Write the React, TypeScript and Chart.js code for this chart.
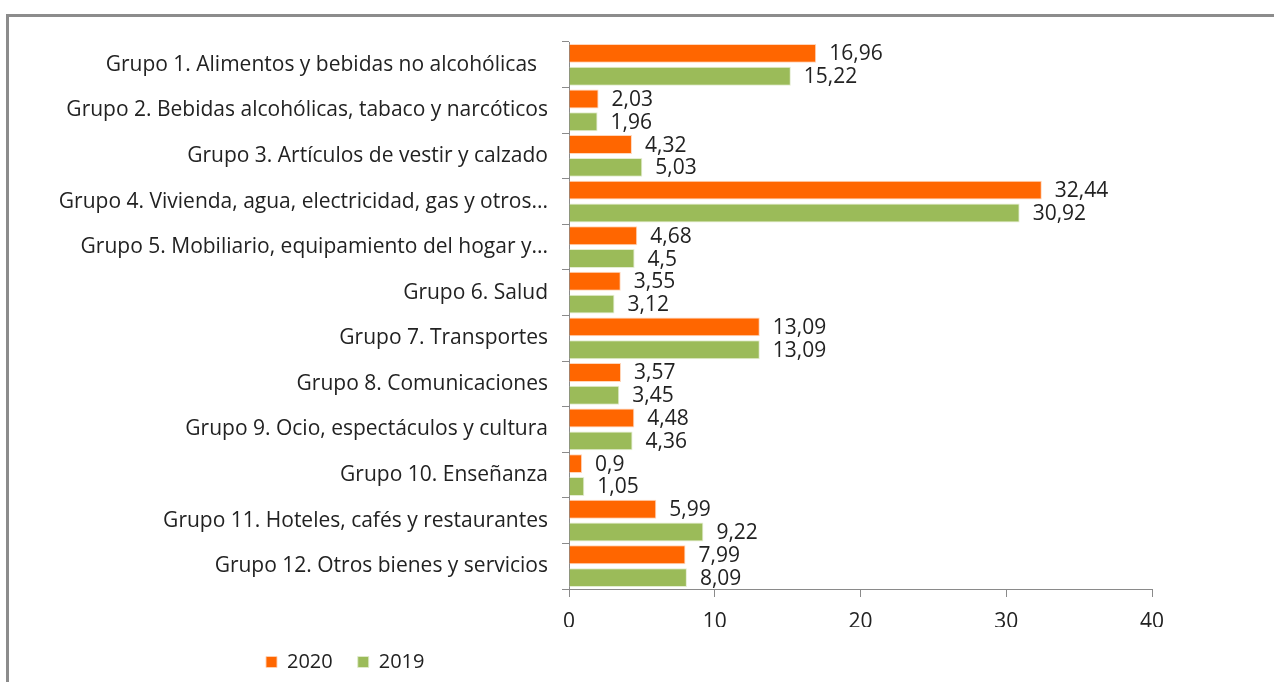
import React, { useEffect, useRef } from "react";
import { Chart, registerables } from "chart.js";

Chart.register(...registerables);

const categories = [
  "Grupo 1. Alimentos y bebidas no alcohólicas  ",
  "Grupo 2. Bebidas alcohólicas, tabaco y narcóticos",
  "Grupo 3. Artículos de vestir y calzado",
  "Grupo 4. Vivienda, agua, electricidad, gas y otros...",
  "Grupo 5. Mobiliario, equipamiento del hogar y...",
  "Grupo 6. Salud",
  "Grupo 7. Transportes",
  "Grupo 8. Comunicaciones",
  "Grupo 9. Ocio, espectáculos y cultura",
  "Grupo 10. Enseñanza",
  "Grupo 11. Hoteles, cafés y restaurantes",
  "Grupo 12. Otros bienes y servicios",
];

const values2020 = [16.96, 2.03, 4.32, 32.44, 4.68, 3.55, 13.09, 3.57, 4.48, 0.9, 5.99, 7.99];
const values2019 = [15.22, 1.96, 5.03, 30.92, 4.5, 3.12, 13.09, 3.45, 4.36, 1.05, 9.22, 8.09];

const seriesNames = ["2020", "2019"];
const xMin = 0;
const xMax = 40;
const xStep = 10;

const FONT = "'Open Sans', 'Noto Sans', sans-serif";
const TEXT = "#222222";
const AXIS = "#8a8a8a";
const ORANGE = "#FF6600";
const GREEN = "#9BBB59";
const LEGEND_LEFT = 241;

const fmt = (v: number) => String(v).replace(".", ",");

const dataLabels = {
  id: "dataLabels",
  afterDatasetsDraw(chart: any) {
    const ctx = chart.ctx;
    ctx.save();
    ctx.font = `21px ${FONT}`;
    ctx.fillStyle = TEXT;
    ctx.textAlign = "left";
    ctx.textBaseline = "middle";
    chart.data.datasets.forEach((ds: any, di: number) => {
      const meta = chart.getDatasetMeta(di);
      meta.data.forEach((bar: any, i: number) => {
        ctx.fillText(fmt(ds.data[i]), bar.x + 13, bar.y + 1);
      });
    });
    ctx.restore();
  },
};

const legendShift = {
  id: "legendShift",
  afterLayout(chart: any) {
    if (chart.legend) chart.legend.left = LEGEND_LEFT;
  },
};

export default function App() {
  const ref = useRef<HTMLCanvasElement | null>(null);

  useEffect(() => {
    if (!ref.current) return;
    const chart = new Chart(ref.current, {
      type: "bar",
      data: {
        labels: categories,
        datasets: [
          {
            label: seriesNames[0],
            data: values2020,
            backgroundColor: ORANGE,
            borderColor: "rgba(255,210,180,0.9)",
            borderWidth: 1,
            categoryPercentage: 1,
            barPercentage: 0.83,
          },
          {
            label: seriesNames[1],
            data: values2019,
            backgroundColor: GREEN,
            borderColor: "rgba(225,235,205,0.9)",
            borderWidth: 1,
            categoryPercentage: 1,
            barPercentage: 0.83,
          },
        ],
      },
      options: {
        indexAxis: "y",
        responsive: false,
        animation: false,
        events: [],
        layout: { padding: { left: 8, top: 42, right: 122, bottom: 0 } },
        plugins: {
          tooltip: { enabled: false },
          title: { display: false },
          legend: {
            display: true,
            position: "bottom",
            align: "start",
            labels: {
              boxWidth: 11,
              boxHeight: 11,
              padding: 25,
              color: TEXT,
              font: { family: FONT, size: 20 },
            },
          },
        },
        scales: {
          x: {
            min: xMin,
            max: xMax,
            ticks: {
              stepSize: xStep,
              color: TEXT,
              font: { family: FONT, size: 21 },
              padding: 12,
            },
            grid: {
              display: true,
              drawOnChartArea: false,
              drawTicks: true,
              tickLength: 8,
              color: AXIS,
              lineWidth: 1,
            },
            border: { display: true, color: AXIS, width: 1 },
            afterFit: (s: any) => {
              s.height = 38;
            },
          },
          y: {
            ticks: {
              color: TEXT,
              font: { family: FONT, size: 21 },
              padding: 14,
              autoSkip: false,
            },
            grid: {
              display: true,
              drawOnChartArea: false,
              drawTicks: true,
              tickLength: 7,
              color: AXIS,
              lineWidth: 1,
              offset: true,
            },
            border: { display: true, color: AXIS, width: 1 },
            afterFit: (s: any) => {
              s.width = 561;
            },
          },
        },
      },
      plugins: [dataLabels, legendShift],
    });
    return () => chart.destroy();
  }, []);

  return (
    <div
      style={{
        position: "fixed",
        left: 0,
        top: 0,
        width: 1274,
        height: 682,
        overflow: "hidden",
        background: "#fff",
      }}
    >
      <div
        style={{
          position: "absolute",
          left: 6,
          top: 14,
          width: 2000,
          height: 2000,
          borderTop: "3px solid #8c8c8c",
          borderLeft: "3px solid #8c8c8c",
          boxSizing: "border-box",
        }}
      />
      <canvas
        ref={ref}
        width={1274}
        height={682}
        style={{ position: "absolute", left: 0, top: 0 }}
      />
    </div>
  );
}
